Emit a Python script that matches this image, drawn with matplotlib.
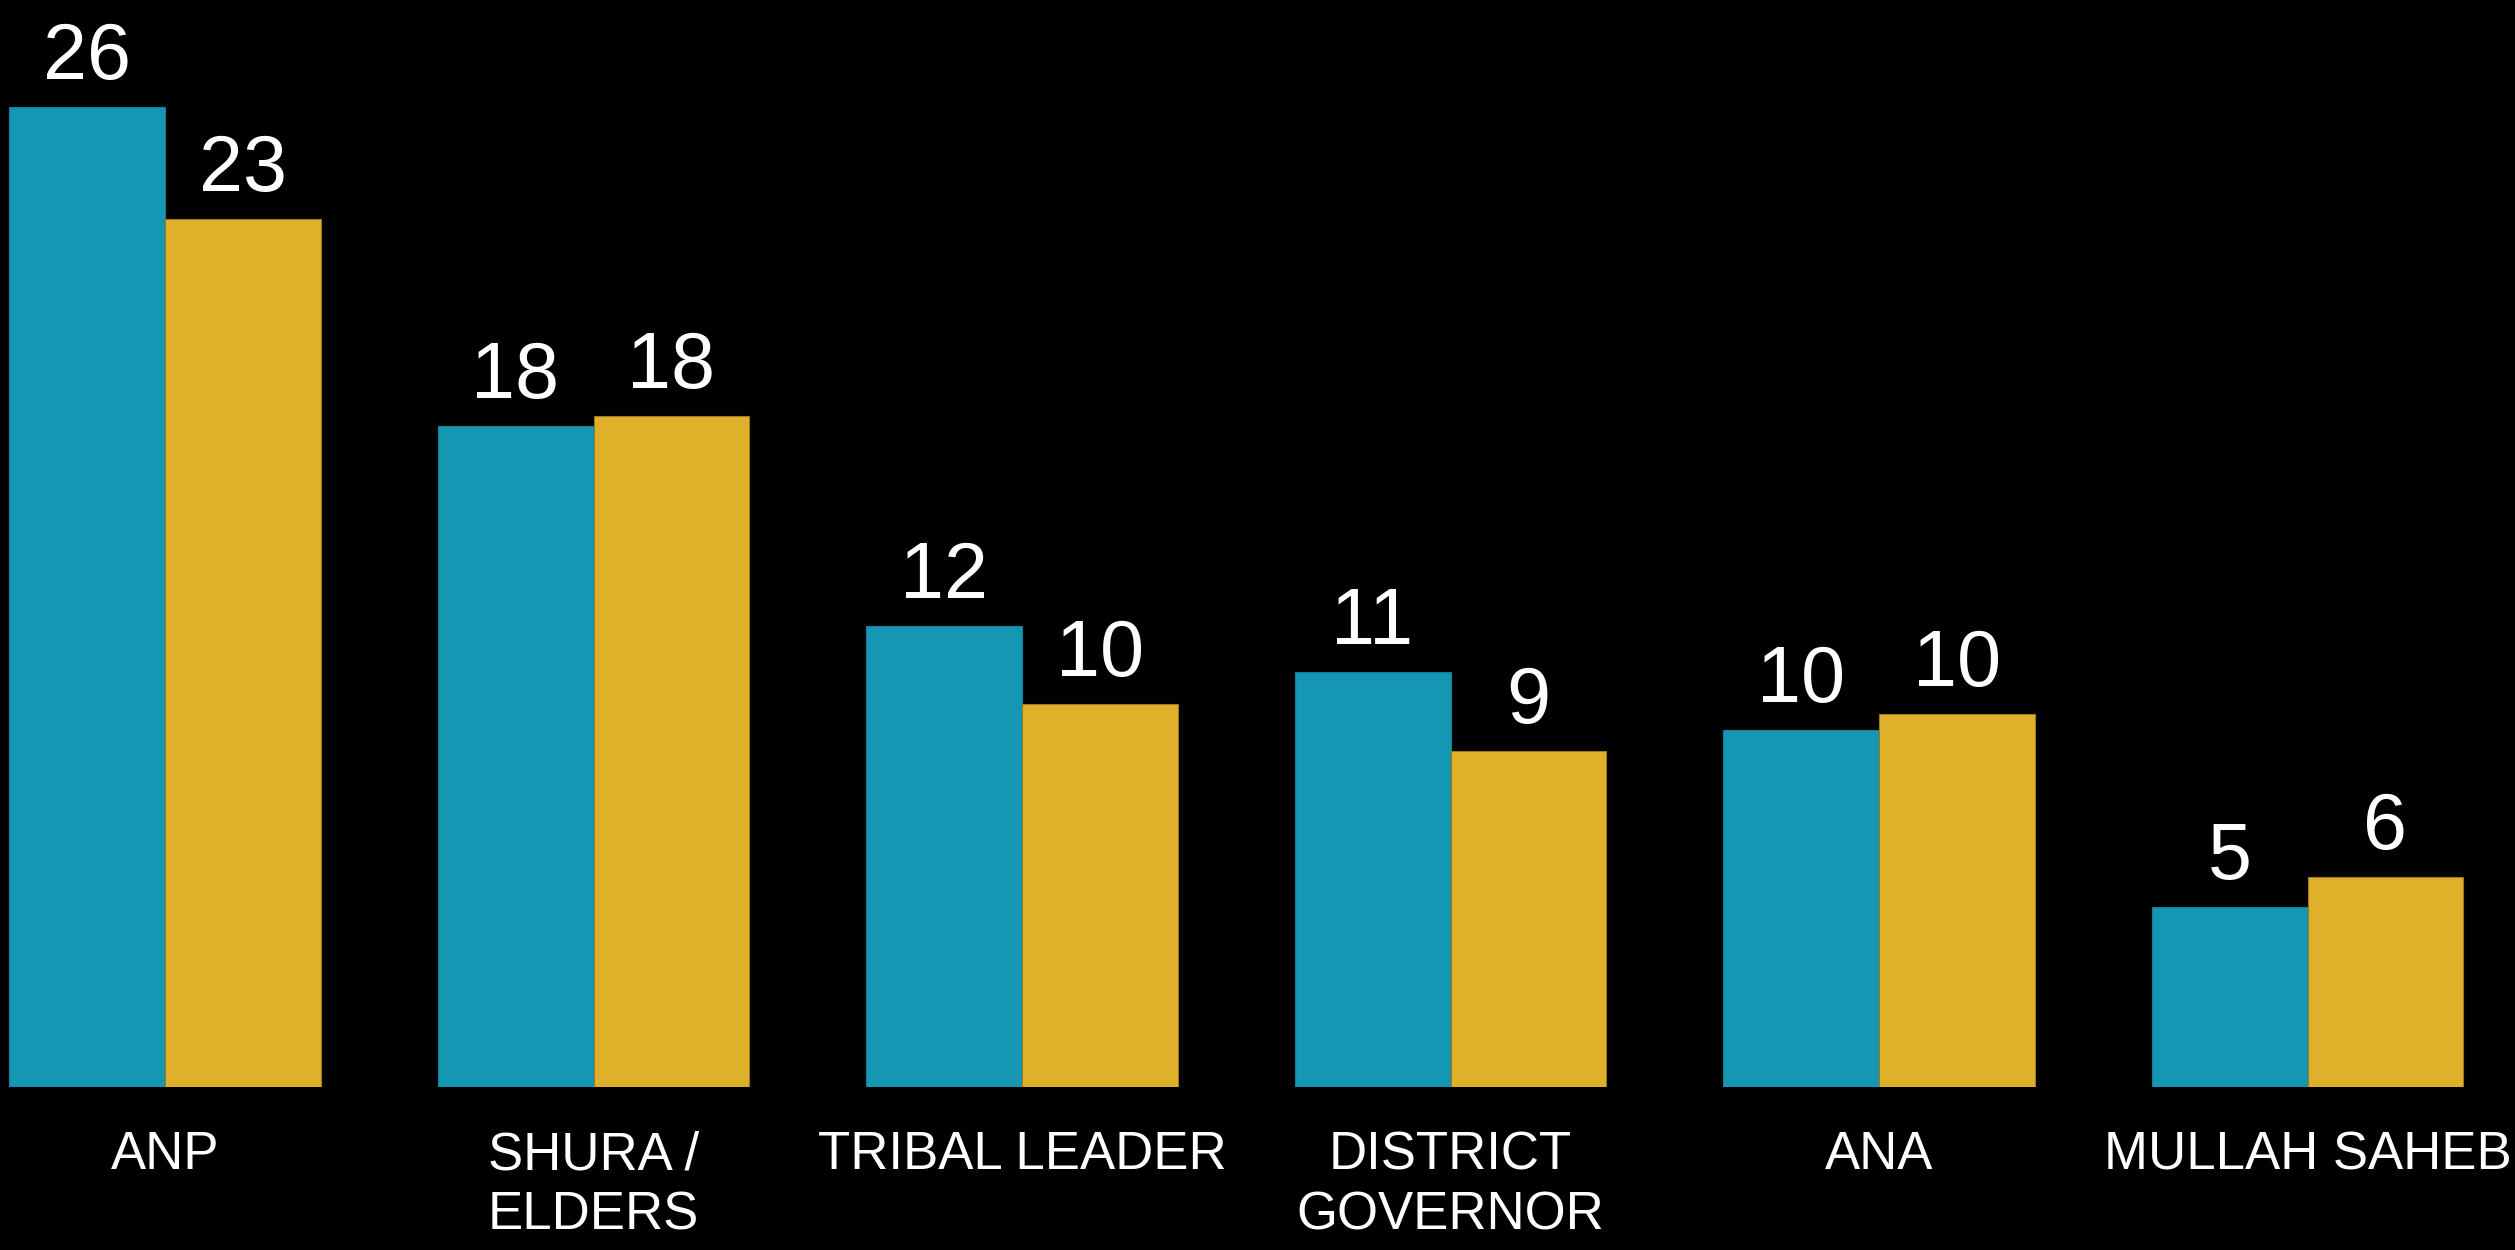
import numpy as np
import matplotlib
matplotlib.use("Agg")
import matplotlib.pyplot as plt

categories = ["ANP", "SHURA /\nELDERS", "TRIBAL LEADER", "DISTRICT\nGOVERNOR", "ANA", "MULLAH SAHEB"]
series_a = [26.27, 17.72, 12.36, 11.13, 9.57, 4.83]
series_b = [23.27, 17.99, 10.27, 9.01, 10.00, 5.63]

teal = "#1596b2"
gold = "#dfb02a"

plt.rcParams['font.family'] = ['Liberation Sans', 'DejaVu Sans']

fig = plt.figure(figsize=(25.15, 12.5), dpi=100, facecolor='black')
ax = fig.add_axes([0, 163 / 1250, 1, 1087 / 1250])
ax.set_facecolor('black')

x = np.arange(len(categories))
w = 0.364
bars_a = ax.bar(x - w / 2, series_a, w, color=teal, edgecolor="#137f98", linewidth=0.8)
bars_b = ax.bar(x + w / 2, series_b, w, color=gold, edgecolor="#9c7a1e", linewidth=0.8)

for bars, vals in ((bars_a, series_a), (bars_b, series_b)):
    for b, v in zip(bars, vals):
        ax.annotate(f"{v:.0f}", (b.get_x() + b.get_width() / 2, v),
                    xytext=(0, 20), textcoords='offset points',
                    ha='center', va='baseline', color='white', fontsize=57)

ax.set_xlim(-165 / 428.5, (2515 - 165) / 428.5)
ax.set_ylim(0, 1087 / 37.3)
ax.set_xticks(x)
ax.set_xticklabels(categories, color='white', fontsize=38, linespacing=1.27)
ax.tick_params(axis='x', length=0, pad=31)
ax.set_yticks([])
for s in ax.spines.values():
    s.set_visible(False)

plt.savefig("out.png", dpi=100, facecolor='black')
